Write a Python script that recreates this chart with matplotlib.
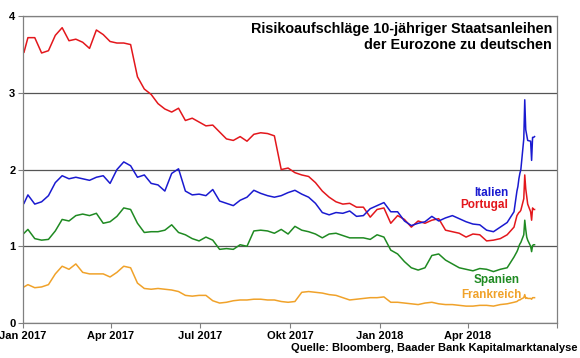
import numpy as np
import pandas as pd
import matplotlib
matplotlib.use("Agg")
import matplotlib.pyplot as plt

plt.rcParams["font.family"] = ["Liberation Sans", "DejaVu Sans"]
plt.rcParams["font.weight"] = "bold"

# dates: first trading day, weekly fridays, then daily for the last weeks
dates = (pd.DatetimeIndex(["2017-01-02"])
         .append(pd.date_range("2017-01-06", "2018-05-18", freq="W-FRI"))
         .append(pd.bdate_range("2018-05-21", "2018-06-08")))

portugal = [
    3.53,
    3.72, 3.72, 3.52, 3.55, 3.75, 3.85, 3.68, 3.70, 3.66, 3.58,
    3.82, 3.76, 3.67, 3.65, 3.65, 3.63, 3.21, 3.05, 2.98, 2.86,
    2.79, 2.75, 2.80, 2.64, 2.67, 2.62, 2.57, 2.58, 2.49, 2.40,
    2.38, 2.43, 2.37, 2.46, 2.48, 2.47, 2.44, 2.00, 2.02, 1.96,
    1.93, 1.91, 1.83, 1.72, 1.64, 1.58, 1.55, 1.56, 1.51, 1.51,
    1.38, 1.48, 1.50, 1.30, 1.40, 1.35, 1.25, 1.33, 1.30, 1.34,
    1.36, 1.21, 1.19, 1.17, 1.12, 1.16, 1.15, 1.07, 1.08, 1.10,
    1.15, 1.25,
    1.40, 1.42, 1.44, 1.45, 1.47, 1.62, 1.93, 1.75, 1.65, 1.55,
    1.45, 1.34, 1.50, 1.48, 1.48]

italien = [
    1.56,
    1.67, 1.55, 1.58, 1.66, 1.83, 1.92, 1.88, 1.90, 1.88, 1.86,
    1.90, 1.92, 1.82, 2.00, 2.10, 2.05, 1.90, 1.93, 1.82, 1.80,
    1.72, 1.95, 2.01, 1.72, 1.67, 1.68, 1.66, 1.74, 1.59, 1.56,
    1.53, 1.60, 1.64, 1.73, 1.69, 1.66, 1.64, 1.66, 1.70, 1.73,
    1.68, 1.64, 1.56, 1.44, 1.41, 1.44, 1.43, 1.46, 1.39, 1.40,
    1.49, 1.53, 1.57, 1.45, 1.45, 1.33, 1.27, 1.30, 1.32, 1.39,
    1.33, 1.37, 1.40, 1.36, 1.32, 1.29, 1.28, 1.21, 1.19, 1.25,
    1.31, 1.45,
    1.72, 1.78, 1.88, 1.95, 2.00, 2.40, 2.91, 2.52, 2.45, 2.38,
    2.37, 2.12, 2.42, 2.42, 2.43]

spanien = [
    1.17,
    1.22, 1.10, 1.08, 1.09, 1.20, 1.35, 1.33, 1.40, 1.42, 1.40,
    1.43, 1.30, 1.32, 1.39, 1.50, 1.48, 1.30, 1.18, 1.19, 1.19,
    1.21, 1.28, 1.18, 1.15, 1.10, 1.07, 1.12, 1.08, 0.96, 0.97,
    0.96, 1.02, 1.00, 1.20, 1.21, 1.20, 1.17, 1.22, 1.16, 1.26,
    1.21, 1.19, 1.16, 1.11, 1.16, 1.17, 1.14, 1.11, 1.11, 1.11,
    1.09, 1.15, 1.12, 0.95, 0.90, 0.80, 0.72, 0.69, 0.72, 0.88,
    0.90, 0.82, 0.77, 0.72, 0.70, 0.68, 0.71, 0.70, 0.67, 0.70,
    0.72, 0.86,
    0.93, 0.96, 1.00, 1.03, 1.05, 1.15, 1.34, 1.22, 1.12, 1.08,
    1.00, 0.93, 1.01, 1.02, 1.02]

frankreich = [
    0.47,
    0.50, 0.46, 0.47, 0.50, 0.64, 0.74, 0.70, 0.77, 0.66, 0.64,
    0.64, 0.64, 0.60, 0.66, 0.74, 0.72, 0.52, 0.45, 0.44, 0.45,
    0.44, 0.43, 0.41, 0.36, 0.35, 0.36, 0.36, 0.29, 0.26, 0.27,
    0.29, 0.30, 0.30, 0.31, 0.31, 0.30, 0.30, 0.28, 0.27, 0.28,
    0.40, 0.41, 0.40, 0.39, 0.37, 0.36, 0.33, 0.30, 0.31, 0.32,
    0.33, 0.33, 0.34, 0.27, 0.27, 0.26, 0.25, 0.24, 0.26, 0.27,
    0.25, 0.24, 0.24, 0.23, 0.22, 0.22, 0.23, 0.23, 0.22, 0.24,
    0.25, 0.27,
    0.28, 0.29, 0.30, 0.30, 0.31, 0.33, 0.37, 0.32, 0.33, 0.32,
    0.32, 0.31, 0.33, 0.33, 0.33]

tick_dates = pd.to_datetime(["2017-01-01", "2017-04-01", "2017-07-01", "2017-10-01",
                             "2018-01-01", "2018-04-01", "2018-07-01"])
tick_labels = ["Jan 2017", "Apr 2017", "Jul 2017", "Okt 2017", "Jan 2018", "Apr 2018", ""]

series = [
    ("Portugal", portugal, "#e3171c", "2018-05-12", 1.54),
    ("Italien", italien, "#1a1ad0", "2018-05-12", 1.69),
    ("Spanien", spanien, "#1f8a22", "2018-05-24", 0.56),
    ("Frankreich", frankreich, "#f0a22a", "2018-05-26", 0.365),
]

fig = plt.figure(figsize=(5.8, 3.58), dpi=100)
ax = fig.add_axes([0.0397, 0.0978, 0.9207, 0.857])

for name, vals, col, lx, ly in series:
    ax.plot(dates, vals, color=col, lw=1.1)
for name, vals, col, lx, ly in series:
    ax.text(pd.Timestamp(lx), ly, name, color=col, fontsize=8.5,
            fontweight="bold", ha="right", va="center")

ax.set_xlim(pd.Timestamp("2017-01-01"), pd.Timestamp("2018-07-01"))
ax.set_ylim(0, 4)
ax.set_yticks([0, 1, 2, 3, 4])
ax.set_xticks(tick_dates)
ax.set_xticklabels(tick_labels)
ax.tick_params(axis="both", labelsize=8, direction="out", length=3.5,
               color="#808080", pad=2)
for lab in ax.get_xticklabels() + ax.get_yticklabels():
    lab.set_fontweight("bold")

ax.grid(axis="y", color="#555555", lw=0.9)
ax.set_axisbelow(True)
for s in ax.spines.values():
    s.set_color("#808080")
    s.set_linewidth(0.9)

ax.text(0.991, 0.982, "Risikoaufschläge 10-jähriger Staatsanleihen\nder Eurozone zu deutschen",
        transform=ax.transAxes, ha="right", va="top", fontsize=10.4,
        fontweight="bold", linespacing=1.2)
fig.text(0.995, 0.028, "Quelle: Bloomberg, Baader Bank Kapitalmarktanalyse",
         ha="right", va="center", fontsize=8, fontweight="bold")

fig.savefig("out.png", dpi=100)
